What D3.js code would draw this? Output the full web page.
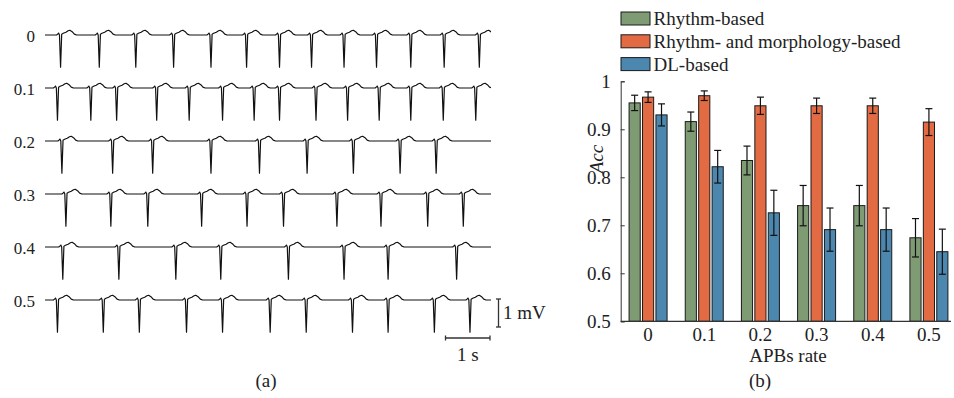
<!DOCTYPE html>
<html>
<head>
<meta charset="utf-8">
<script src="https://cdn.jsdelivr.net/npm/d3@7"></script>
<style>
  body { margin: 0; background: #fff; }
  svg text { font-family: "Liberation Serif", "Times New Roman", serif; fill: #222; }
</style>
</head>
<body>
<svg id="chart" width="954" height="398"></svg>
<script>
// ---- panel (a): ECG traces, beat (R/S spike) times in seconds per APB rate ----
const rates = ["0", "0.1", "0.2", "0.3", "0.4", "0.5"];
const beats0  = [0.35, 1.22, 2.04, 2.89, 3.73, 4.53, 5.27, 5.99, 6.72, 7.45, 8.22, 8.97, 9.76];
const beats01 = [0.28, 1.03, 1.61, 2.51, 3.24, 3.99, 4.70, 5.27, 6.09, 6.80, 7.51, 8.22, 8.95, 9.68];
const beats02 = [0.38, 1.52, 2.42, 3.73, 4.82, 5.89, 6.93, 7.98, 8.79];
const beats03 = [0.47, 1.48, 2.31, 3.52, 4.54, 5.36, 6.56, 7.55, 8.60, 9.40];
const beats04 = [0.40, 1.66, 2.94, 3.95, 5.47, 6.72, 7.71, 9.25];
const beats05 = [0.28, 1.31, 2.12, 3.18, 3.99, 5.06, 5.87, 6.91, 7.71, 8.75, 9.55];
const beatTimes = [beats0, beats01, beats02, beats03, beats04, beats05];
// one beat shape: [seconds from spike, mV]
const beatShape = [[-0.09, 0], [-0.06, 0.04], [-0.045, 0.07], [-0.025, 0.0], [0, -1.15],
  [0.025, 0.03], [0.06, 0.06], [0.12, 0.1], [0.17, 0.15], [0.21, 0.17], [0.26, 0.12],
  [0.31, 0.03], [0.36, 0]];

// ---- panel (b): accuracy bars ----
const groups = ["0", "0.1", "0.2", "0.3", "0.4", "0.5"];
const methods = ["Rhythm-based", "Rhythm- and morphology-based", "DL-based"];
const colors = ["#7f9b74", "#e26b43", "#4b87ae"];
const rhythmAcc = [0.955, 0.916, 0.835, 0.741, 0.741, 0.674];
const rhythmErr = [0.016, 0.020, 0.030, 0.042, 0.042, 0.040];
const morphAcc  = [0.967, 0.970, 0.949, 0.949, 0.949, 0.915];
const morphErr  = [0.011, 0.010, 0.018, 0.016, 0.016, 0.028];
const dlAcc     = [0.930, 0.822, 0.726, 0.691, 0.691, 0.645];
const dlErr     = [0.023, 0.034, 0.047, 0.045, 0.045, 0.047];
const yTicks = [0.5, 0.6, 0.7, 0.8, 0.9, 1];

const serif = "Liberation Serif, Times New Roman, serif";
const svg = d3.select("#chart");

// ===== panel (a) =====
const xt = d3.scaleLinear().domain([0, 10]).range([45, 490]);
const rowY = d3.scalePoint().domain(rates).range([35, 300]);
const pxPerMV = 28;

svg.append("clipPath").attr("id", "clipA")
  .append("rect").attr("x", 44).attr("y", 0).attr("width", 447).attr("height", 398);

const ecg = svg.append("g").attr("clip-path", "url(#clipA)");
rates.forEach(function(r, i) {
  const y = d3.scaleLinear().domain([0, 1]).range([rowY(r), rowY(r) - pxPerMV]);
  let pts = [[0, 0]];
  beatTimes[i].forEach(function(t) {
    beatShape.forEach(function(p) { pts.push([t + p[0], p[1]]); });
  });
  pts.push([10.2, 0]);
  const line = d3.line().x(d => xt(d[0])).y(d => y(d[1]));
  ecg.append("path")
    .attr("d", line(pts))
    .attr("fill", "none")
    .attr("stroke", "#111")
    .attr("stroke-width", 1.2)
    .attr("stroke-linejoin", "round");
});

svg.selectAll(".rowlab")
  .data(rates)
  .enter().append("text")
  .attr("class", "rowlab")
  .attr("x", 35)
  .attr("y", d => rowY(d) + 6.5)
  .attr("text-anchor", "end")
  .attr("font-family", serif)
  .attr("font-size", 17)
  .text(d => d);

// scale bars
const mvTop = rowY("0.5") - 1, mvBot = mvTop + pxPerMV;
const sb = svg.append("g").attr("stroke", "#333").attr("stroke-width", 1.3);
sb.append("line").attr("x1", 498.5).attr("x2", 498.5).attr("y1", mvTop).attr("y2", mvBot);
sb.append("line").attr("x1", 496).attr("x2", 501).attr("y1", mvTop).attr("y2", mvTop);
sb.append("line").attr("x1", 496).attr("x2", 501).attr("y1", mvBot).attr("y2", mvBot);
sb.append("line").attr("x1", xt(9)).attr("x2", xt(10)).attr("y1", 338).attr("y2", 338);
sb.append("line").attr("x1", xt(9)).attr("x2", xt(9)).attr("y1", 335.5).attr("y2", 340.5);
sb.append("line").attr("x1", xt(10)).attr("x2", xt(10)).attr("y1", 335.5).attr("y2", 340.5);
svg.append("text").attr("x", 503).attr("y", 318.5).attr("font-family", serif).attr("font-size", 19).text("1 mV");
svg.append("text").attr("x", (xt(9) + xt(10)) / 2).attr("y", 361).attr("text-anchor", "middle")
  .attr("font-family", serif).attr("font-size", 19).text("1 s");
svg.append("text").attr("x", 266).attr("y", 387).attr("text-anchor", "middle")
  .attr("font-family", serif).attr("font-size", 19).text("(a)");

// ===== panel (b) =====
const x0 = d3.scaleBand().domain(groups).range([620, 957]);
const x1 = d3.scaleBand().domain(methods).range([-19, 19]).paddingInner(0.17);
const y = d3.scaleLinear().domain([0.5, 1]).range([321.3, 81.3]);

const series = [
  { name: methods[0], acc: rhythmAcc, err: rhythmErr },
  { name: methods[1], acc: morphAcc, err: morphErr },
  { name: methods[2], acc: dlAcc, err: dlErr }
];

const bars = svg.append("g");
series.forEach(function(s, k) {
  const data = groups.map((g, i) => ({ g: g, v: s.acc[i], e: s.err[i] }));
  bars.selectAll(".bar" + k)
    .data(data)
    .enter().append("rect")
    .attr("class", "bar" + k)
    .attr("x", d => x0(d.g) + x0.bandwidth() / 2 + x1(s.name))
    .attr("y", d => y(d.v))
    .attr("width", x1.bandwidth())
    .attr("height", d => y(0.5) - y(d.v))
    .attr("fill", colors[k])
    .attr("stroke", "#1a1a1a")
    .attr("stroke-width", 1);

  const cx = d => x0(d.g) + x0.bandwidth() / 2 + x1(s.name) + x1.bandwidth() / 2;
  const eb = bars.selectAll(".err" + k).data(data).enter().append("g")
    .attr("class", "err" + k)
    .attr("stroke", "#111").attr("stroke-width", 1.2);
  eb.append("line").attr("x1", cx).attr("x2", cx)
    .attr("y1", d => y(d.v + d.e)).attr("y2", d => y(d.v - d.e));
  eb.append("line").attr("x1", d => cx(d) - 3.5).attr("x2", d => cx(d) + 3.5)
    .attr("y1", d => y(d.v + d.e)).attr("y2", d => y(d.v + d.e));
  eb.append("line").attr("x1", d => cx(d) - 3.5).attr("x2", d => cx(d) + 3.5)
    .attr("y1", d => y(d.v - d.e)).attr("y2", d => y(d.v - d.e));
});

// y axis, ticks pointing inward
const yAxis = svg.append("g")
  .attr("transform", "translate(620.7,0)")
  .call(d3.axisLeft(y).tickValues(yTicks).tickFormat(d3.format("")).tickSizeInner(-4).tickSizeOuter(-4).tickPadding(10));
yAxis.attr("font-family", serif);
yAxis.selectAll("text").attr("font-size", 19).attr("fill", "#222");
yAxis.selectAll("line, path").attr("stroke", "#333");

// x axis
const xAxis = svg.append("g")
  .attr("transform", "translate(0,321.3)")
  .call(d3.axisBottom(x0).tickSize(0).tickPadding(6));
xAxis.attr("font-family", serif);
xAxis.select(".domain").remove();
xAxis.selectAll("text").attr("font-size", 19).attr("fill", "#222");
svg.append("line").attr("x1", 620.7).attr("x2", 951).attr("y1", 321.3).attr("y2", 321.3)
  .attr("stroke", "#333").attr("stroke-width", 1.2);

svg.append("text").attr("x", 788).attr("y", 362).attr("text-anchor", "middle")
  .attr("font-family", serif).attr("font-size", 19).text("APBs rate");
svg.append("text").attr("transform", "translate(603,159) rotate(-90)")
  .attr("text-anchor", "middle").attr("font-family", serif).attr("font-size", 19)
  .attr("font-style", "italic").text("Acc");
svg.append("text").attr("x", 760).attr("y", 387).attr("text-anchor", "middle")
  .attr("font-family", serif).attr("font-size", 19).text("(b)");

// legend
const leg = svg.selectAll(".leg").data(methods).enter().append("g")
  .attr("class", "leg")
  .attr("transform", (d, i) => "translate(621," + (12 + i * 22.8) + ")");
leg.append("rect").attr("width", 29).attr("height", 13)
  .attr("fill", (d, i) => colors[i]).attr("stroke", "#1a1a1a").attr("stroke-width", 1);
leg.append("text").attr("x", 32.5).attr("y", 13).attr("font-family", serif).attr("font-size", 19).text(d => d);
</script>
</body>
</html>
